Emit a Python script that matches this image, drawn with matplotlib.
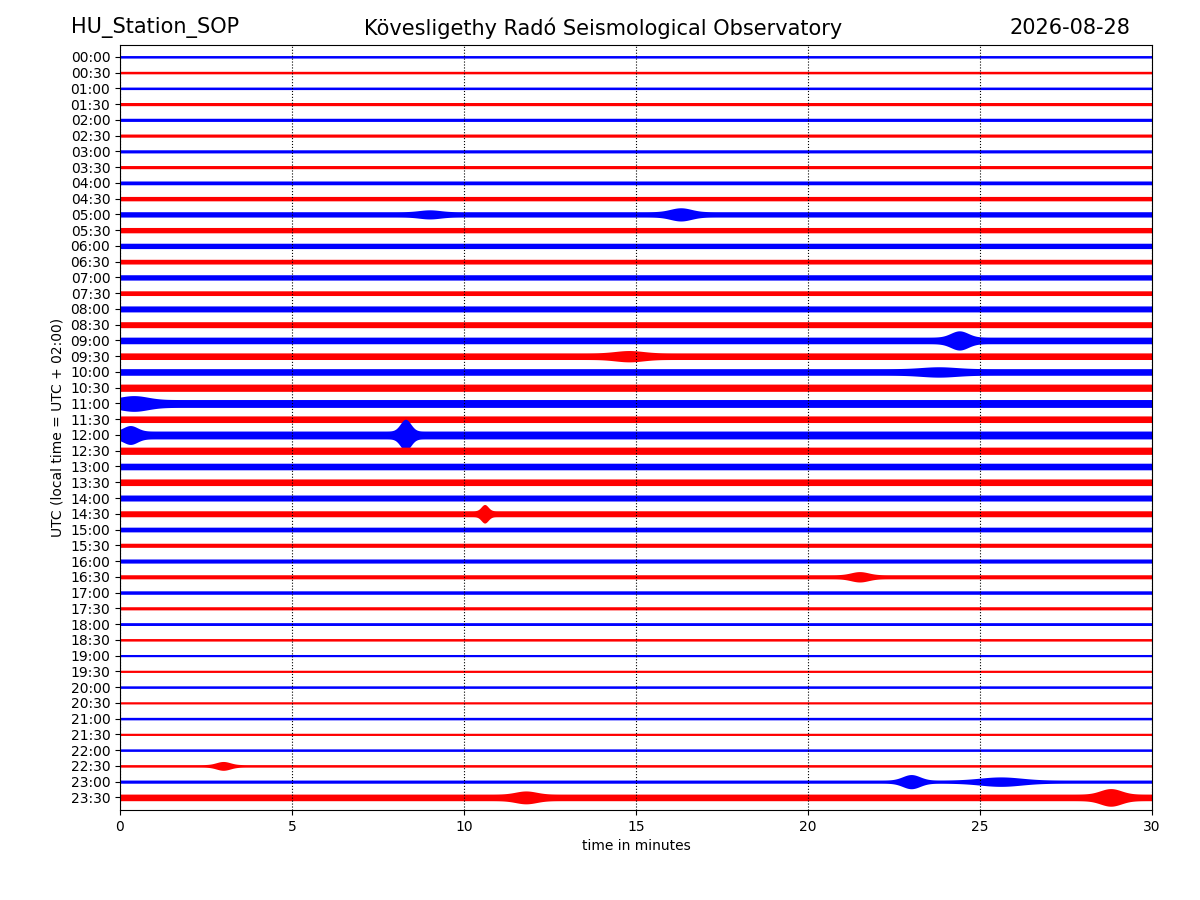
import matplotlib
matplotlib.use("Agg")
import matplotlib.pyplot as plt
import numpy as np

# one trace per 30 minutes, 00:00 .. 23:30
labels = ["%02d:%02d" % (h, m) for h in range(24) for m in (0, 30)]
# half-width of each trace band (in trace spacings), read by eye
base_amp = [0.08, 0.08, 0.08, 0.10, 0.10, 0.10, 0.10, 0.10, 0.12, 0.14,
            0.17, 0.17, 0.17, 0.15, 0.17, 0.15, 0.19, 0.19, 0.21, 0.21,
            0.21, 0.23, 0.25, 0.21, 0.25, 0.23, 0.21, 0.21, 0.19, 0.19,
            0.15, 0.13, 0.13, 0.13, 0.11, 0.10, 0.09, 0.08, 0.07, 0.07,
            0.08, 0.07, 0.08, 0.07, 0.08, 0.08, 0.10, 0.21]
# visible bursts: (trace index, minute, extra half-width, duration in minutes)
events = [(24, 8.3, 0.75, 0.15), (24, 0.3, 0.35, 0.2), (18, 24.4, 0.4, 0.25),
          (10, 16.3, 0.25, 0.3), (10, 9.0, 0.12, 0.3), (46, 23.0, 0.35, 0.25),
          (46, 25.6, 0.2, 0.6), (47, 28.8, 0.35, 0.3), (47, 11.8, 0.2, 0.3),
          (29, 10.6, 0.4, 0.1), (45, 3.0, 0.2, 0.2), (33, 21.5, 0.2, 0.25),
          (19, 14.8, 0.15, 0.4), (20, 23.8, 0.12, 0.5), (22, 0.4, 0.25, 0.4)]
colors = ["blue", "red"]

fig = plt.figure(figsize=(12, 9), dpi=100)
ax = fig.add_axes([0.1, 0.1, 0.86, 0.85])
t = np.linspace(0, 30, 3001)
for i, amp in enumerate(base_amp):
    env = np.full_like(t, amp)
    for tr, m, a, d in events:
        if tr == i:
            env = env + a * np.exp(-0.5 * ((t - m) / d) ** 2)
    y0 = -i
    ax.fill_between(t, y0 - env, y0 + env, color=colors[i % 2], lw=0)

ax.set_xlim(0, 30)
ax.set_ylim(-47.8, 0.75)
ax.set_yticks([-i for i in range(48)])
ax.set_yticklabels(labels)
ax.set_xticks(range(0, 31, 5))
ax.grid(axis="x", color="black", linestyle=":", linewidth=0.8)
ax.set_xlabel("time in minutes")
ax.set_ylabel("UTC (local time = UTC + 02:00)")
fig.text(0.059, 0.969, "HU_Station_SOP", fontsize=15, va="center")
fig.text(0.503, 0.969, "Kövesligethy Radó Seismological Observatory", fontsize=15,
         va="center", ha="center")
fig.text(0.942, 0.969, "2026-08-28", fontsize=15, va="center", ha="right")
fig.savefig("out.png")
